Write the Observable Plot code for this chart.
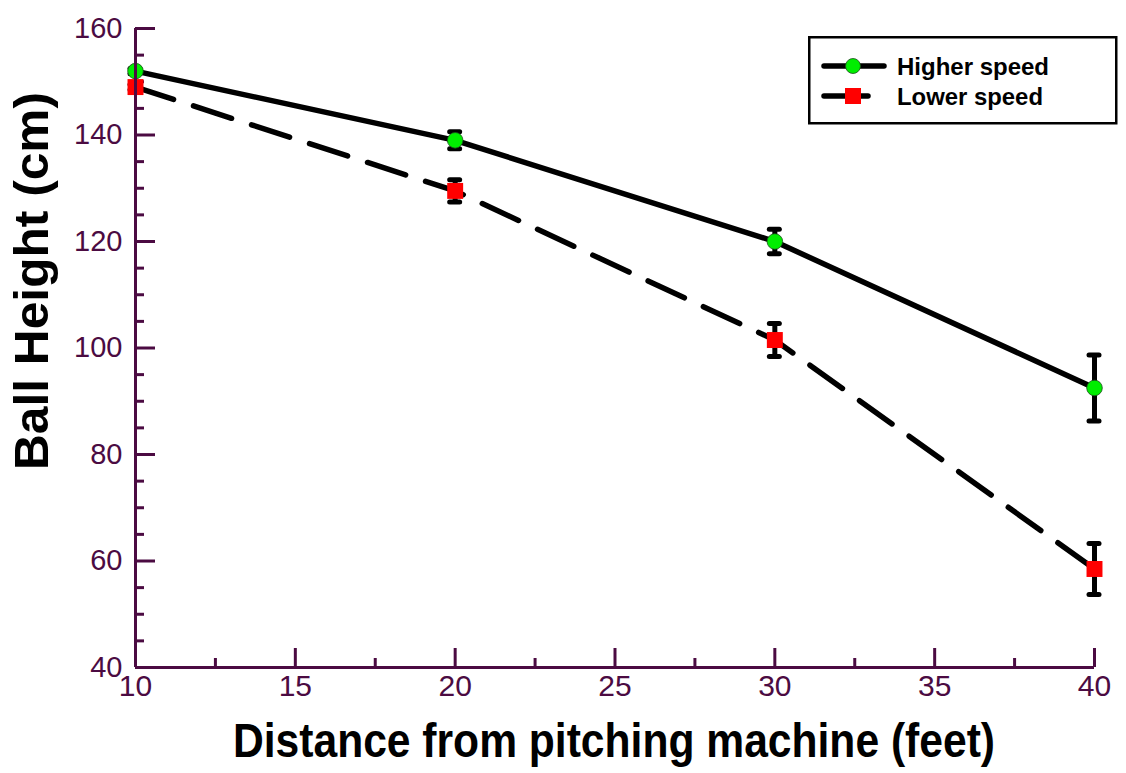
<!DOCTYPE html>
<html><head><meta charset="utf-8">
<script src="https://cdn.jsdelivr.net/npm/d3@7"></script>
<script src="https://cdn.jsdelivr.net/npm/@observablehq/plot@0.6"></script>
<style>
body{margin:0;background:#fff;font-family:"Liberation Sans",Arial,sans-serif}
#wrap{position:relative;width:1126px;height:773px;overflow:hidden}
#overlay{position:absolute;left:0;top:0;pointer-events:none}
</style></head>
<body><div id="wrap"></div>
<script>
const distances = [10, 20, 30, 40];
const higherSpeed = [152, 139, 120, 92.5];
const higherErr = [0.5, 1.6, 2.3, 6.2];
const lowerSpeed = [149, 129.5, 101.5, 58.5];
const lowerErr = [0.5, 2.1, 3.1, 4.8];
const seriesNames = ["Higher speed", "Lower speed"];
const xTitle = "Distance from pitching machine (feet)";
const yTitle = "Ball Height (cm)";
const xMajorTicks = [10, 15, 20, 25, 30, 35, 40];
const xMinorTicks = [12.5, 17.5, 22.5, 27.5, 32.5, 37.5];
const yMajorTicks = [40, 60, 80, 100, 120, 140, 160];
const yMinorTicks = [45, 50, 55, 65, 70, 75, 85, 90, 95, 105, 110, 115, 125, 130, 135, 145, 150, 155];

const purple = "#4b0b42";
const green = "#00ee00";
const higher = distances.map((x, i) => ({x, y: higherSpeed[i], lo: higherSpeed[i] - higherErr[i], hi: higherSpeed[i] + higherErr[i]}));
const lower = distances.map((x, i) => ({x, y: lowerSpeed[i], lo: lowerSpeed[i] - lowerErr[i], hi: lowerSpeed[i] + lowerErr[i]}));
const both = higher.concat(lower);

const chart = Plot.plot({
  width: 1126, height: 773,
  marginLeft: 135, marginRight: 32, marginTop: 28, marginBottom: 106,
  style: {fontFamily: "Liberation Sans, Arial, sans-serif", background: "white"},
  x: {domain: [10, 40]},
  y: {domain: [40, 160]},
  marks: [
    Plot.axisY({ticks: yMinorTicks, tickSize: -9, tickFormat: () => "", stroke: purple, strokeWidth: 3, label: null}),
    Plot.axisY({ticks: yMajorTicks, tickSize: -20, tickFormat: () => "", stroke: purple, strokeWidth: 3, label: null}),
    Plot.axisY({ticks: yMajorTicks, tickSize: 0, tickPadding: 13, fontSize: 29, fill: purple, label: null}),
    Plot.axisX({ticks: xMinorTicks, tickSize: -9, tickFormat: () => "", stroke: purple, strokeWidth: 3, label: null}),
    Plot.axisX({ticks: xMajorTicks, tickSize: -19, tickFormat: () => "", stroke: purple, strokeWidth: 3, label: null}),
    Plot.axisX({ticks: xMajorTicks, tickSize: 0, tickPadding: 7, fontSize: 30, fill: purple, label: null}),
    Plot.line(higher, {x: "x", y: "y", stroke: "black", strokeWidth: 5.5, strokeLinecap: "round"}),
    Plot.line(lower, {x: "x", y: "y", stroke: "black", strokeWidth: 5.5, strokeLinecap: "round", strokeDasharray: "40,21"}),
    Plot.ruleX(both, {x: "x", y1: "lo", y2: "hi", stroke: "black", strokeWidth: 5}),
    Plot.ruleY(both, {x1: "x", x2: "x", y: "hi", insetLeft: -5, insetRight: -5, stroke: "black", strokeWidth: 5, strokeLinecap: "round"}),
    Plot.ruleY(both, {x1: "x", x2: "x", y: "lo", insetLeft: -5, insetRight: -5, stroke: "black", strokeWidth: 5, strokeLinecap: "round"}),
    Plot.dot(higher, {x: "x", y: "y", r: 7.8, fill: green, stroke: "#1d4d1d", strokeWidth: 0.8}),
    Plot.dot(lower, {x: "x", y: "y", symbol: "square", r: 9, fill: "#ff0000"}),
    Plot.ruleX([10], {stroke: purple, strokeWidth: 3}),
    Plot.ruleY([40], {stroke: purple, strokeWidth: 3})
  ]
});
const wrap = document.getElementById("wrap");
wrap.appendChild(chart);

// Titles and legend overlay (real text)
const ns = "http://www.w3.org/2000/svg";
const ov = d3.select(wrap).append("svg").attr("id", "overlay").attr("width", 1126).attr("height", 773)
  .attr("font-family", "Liberation Sans, Arial, sans-serif");
ov.append("text").attr("x", 614).attr("y", 757).attr("text-anchor", "middle")
  .attr("font-size", 48).attr("font-weight", "bold").attr("textLength", 762).attr("lengthAdjust", "spacingAndGlyphs")
  .text(xTitle);
ov.append("text").attr("transform", "translate(48,281) rotate(-90)").attr("text-anchor", "middle")
  .attr("font-size", 48).attr("font-weight", "bold").attr("textLength", 378).attr("lengthAdjust", "spacingAndGlyphs")
  .text(yTitle);

const lg = ov.append("g").attr("transform", "translate(808,36)");
lg.append("rect").attr("x", 1.25).attr("y", 1.25).attr("width", 307).attr("height", 86)
  .attr("fill", "white").attr("stroke", "black").attr("stroke-width", 2.5);
// row 1
lg.append("line").attr("x1", 16).attr("x2", 76).attr("y1", 30).attr("y2", 30)
  .attr("stroke", "black").attr("stroke-width", 5.5).attr("stroke-linecap", "round");
lg.append("circle").attr("cx", 45).attr("cy", 30).attr("r", 7.5).attr("fill", green).attr("stroke", "#1d4d1d").attr("stroke-width", 0.8);
lg.append("text").attr("x", 89).attr("y", 39).attr("font-size", 24).attr("font-weight", "bold").attr("textLength", 152).attr("lengthAdjust", "spacingAndGlyphs").text(seriesNames[0]);
// row 2
lg.append("line").attr("x1", 16).attr("x2", 60).attr("y1", 60).attr("y2", 60)
  .attr("stroke", "black").attr("stroke-width", 5.5).attr("stroke-linecap", "round");
lg.append("rect").attr("x", 37).attr("y", 52).attr("width", 16).attr("height", 16).attr("fill", "#ff0000");
lg.append("text").attr("x", 89).attr("y", 69).attr("font-size", 24).attr("font-weight", "bold").attr("textLength", 146).attr("lengthAdjust", "spacingAndGlyphs").text(seriesNames[1]);
</script>
</body></html>
